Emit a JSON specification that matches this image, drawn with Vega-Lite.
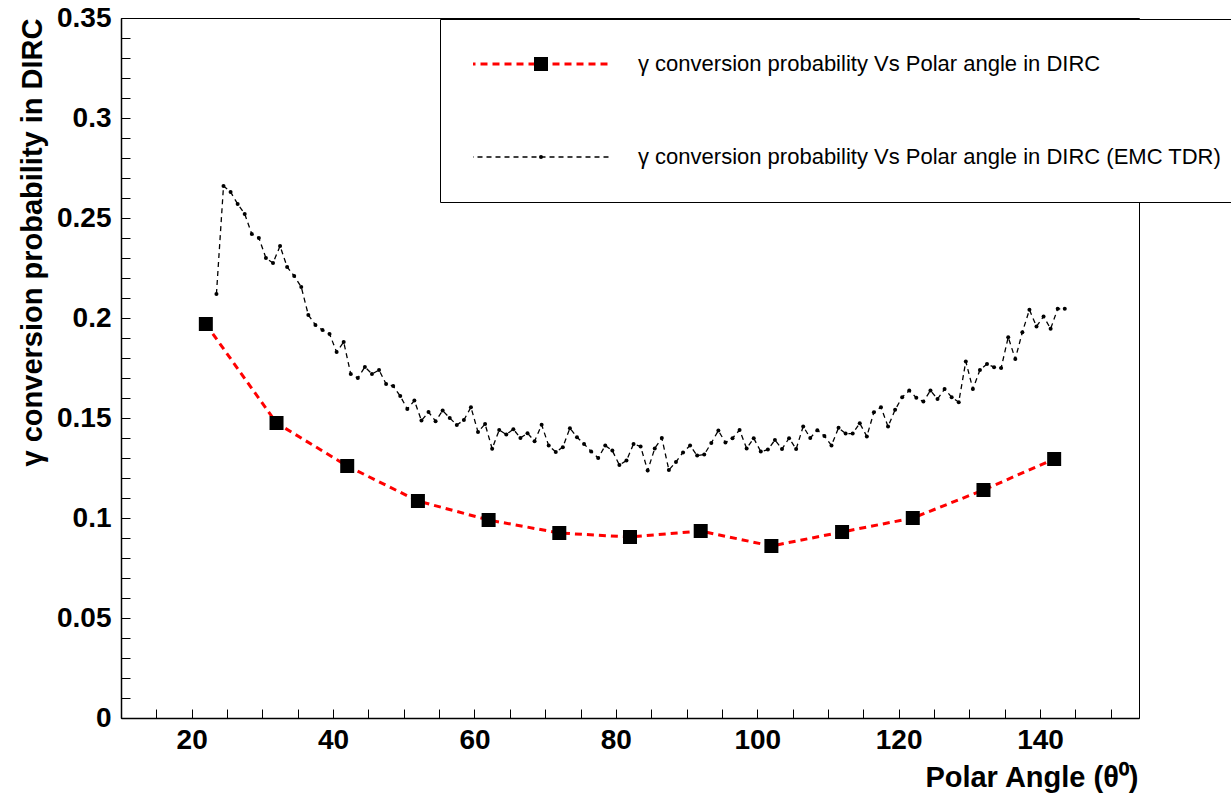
{
  "$schema": "https://vega.github.io/schema/vega-lite/v6.json",
  "width": 1018,
  "height": 700,
  "autosize": {"type": "none"},
  "padding": {"left": 121, "top": 18, "right": 92, "bottom": 78},
  "background": "white",
  "config": {"view": {"stroke": "black", "strokeWidth": 1}, "font": "Liberation Sans"},
  "datasets": {
    "pts": [
      {"series": "γ conversion probability Vs Polar angle in DIRC", "angle": 22, "prob": 0.197},
      {"series": "γ conversion probability Vs Polar angle in DIRC", "angle": 32, "prob": 0.1475},
      {"series": "γ conversion probability Vs Polar angle in DIRC", "angle": 42, "prob": 0.126},
      {"series": "γ conversion probability Vs Polar angle in DIRC", "angle": 52, "prob": 0.1085},
      {"series": "γ conversion probability Vs Polar angle in DIRC", "angle": 62, "prob": 0.099},
      {"series": "γ conversion probability Vs Polar angle in DIRC", "angle": 72, "prob": 0.0925},
      {"series": "γ conversion probability Vs Polar angle in DIRC", "angle": 82, "prob": 0.0905},
      {"series": "γ conversion probability Vs Polar angle in DIRC", "angle": 92, "prob": 0.0935},
      {"series": "γ conversion probability Vs Polar angle in DIRC", "angle": 102, "prob": 0.086},
      {"series": "γ conversion probability Vs Polar angle in DIRC", "angle": 112, "prob": 0.093},
      {"series": "γ conversion probability Vs Polar angle in DIRC", "angle": 122, "prob": 0.1},
      {"series": "γ conversion probability Vs Polar angle in DIRC", "angle": 132, "prob": 0.114},
      {"series": "γ conversion probability Vs Polar angle in DIRC", "angle": 142, "prob": 0.1295},
      {"series": "γ conversion probability Vs Polar angle in DIRC (EMC TDR)", "angle": 23.5, "prob": 0.212},
      {"series": "γ conversion probability Vs Polar angle in DIRC (EMC TDR)", "angle": 24.5, "prob": 0.266},
      {"series": "γ conversion probability Vs Polar angle in DIRC (EMC TDR)", "angle": 25.5, "prob": 0.263},
      {"series": "γ conversion probability Vs Polar angle in DIRC (EMC TDR)", "angle": 26.5, "prob": 0.257},
      {"series": "γ conversion probability Vs Polar angle in DIRC (EMC TDR)", "angle": 27.5, "prob": 0.252},
      {"series": "γ conversion probability Vs Polar angle in DIRC (EMC TDR)", "angle": 28.5, "prob": 0.242},
      {"series": "γ conversion probability Vs Polar angle in DIRC (EMC TDR)", "angle": 29.5, "prob": 0.24},
      {"series": "γ conversion probability Vs Polar angle in DIRC (EMC TDR)", "angle": 30.5, "prob": 0.23},
      {"series": "γ conversion probability Vs Polar angle in DIRC (EMC TDR)", "angle": 31.5, "prob": 0.2275},
      {"series": "γ conversion probability Vs Polar angle in DIRC (EMC TDR)", "angle": 32.5, "prob": 0.236},
      {"series": "γ conversion probability Vs Polar angle in DIRC (EMC TDR)", "angle": 33.5, "prob": 0.2255},
      {"series": "γ conversion probability Vs Polar angle in DIRC (EMC TDR)", "angle": 34.5, "prob": 0.221},
      {"series": "γ conversion probability Vs Polar angle in DIRC (EMC TDR)", "angle": 35.5, "prob": 0.2155},
      {"series": "γ conversion probability Vs Polar angle in DIRC (EMC TDR)", "angle": 36.5, "prob": 0.2015},
      {"series": "γ conversion probability Vs Polar angle in DIRC (EMC TDR)", "angle": 37.5, "prob": 0.1965},
      {"series": "γ conversion probability Vs Polar angle in DIRC (EMC TDR)", "angle": 38.5, "prob": 0.194},
      {"series": "γ conversion probability Vs Polar angle in DIRC (EMC TDR)", "angle": 39.5, "prob": 0.192},
      {"series": "γ conversion probability Vs Polar angle in DIRC (EMC TDR)", "angle": 40.5, "prob": 0.183},
      {"series": "γ conversion probability Vs Polar angle in DIRC (EMC TDR)", "angle": 41.5, "prob": 0.188},
      {"series": "γ conversion probability Vs Polar angle in DIRC (EMC TDR)", "angle": 42.5, "prob": 0.172},
      {"series": "γ conversion probability Vs Polar angle in DIRC (EMC TDR)", "angle": 43.5, "prob": 0.17},
      {"series": "γ conversion probability Vs Polar angle in DIRC (EMC TDR)", "angle": 44.5, "prob": 0.1755},
      {"series": "γ conversion probability Vs Polar angle in DIRC (EMC TDR)", "angle": 45.5, "prob": 0.172},
      {"series": "γ conversion probability Vs Polar angle in DIRC (EMC TDR)", "angle": 46.5, "prob": 0.174},
      {"series": "γ conversion probability Vs Polar angle in DIRC (EMC TDR)", "angle": 47.5, "prob": 0.167},
      {"series": "γ conversion probability Vs Polar angle in DIRC (EMC TDR)", "angle": 48.5, "prob": 0.166},
      {"series": "γ conversion probability Vs Polar angle in DIRC (EMC TDR)", "angle": 49.5, "prob": 0.161},
      {"series": "γ conversion probability Vs Polar angle in DIRC (EMC TDR)", "angle": 50.5, "prob": 0.1545},
      {"series": "γ conversion probability Vs Polar angle in DIRC (EMC TDR)", "angle": 51.5, "prob": 0.1587},
      {"series": "γ conversion probability Vs Polar angle in DIRC (EMC TDR)", "angle": 52.5, "prob": 0.1487},
      {"series": "γ conversion probability Vs Polar angle in DIRC (EMC TDR)", "angle": 53.5, "prob": 0.153},
      {"series": "γ conversion probability Vs Polar angle in DIRC (EMC TDR)", "angle": 54.5, "prob": 0.1484},
      {"series": "γ conversion probability Vs Polar angle in DIRC (EMC TDR)", "angle": 55.5, "prob": 0.1537},
      {"series": "γ conversion probability Vs Polar angle in DIRC (EMC TDR)", "angle": 56.5, "prob": 0.15},
      {"series": "γ conversion probability Vs Polar angle in DIRC (EMC TDR)", "angle": 57.5, "prob": 0.1465},
      {"series": "γ conversion probability Vs Polar angle in DIRC (EMC TDR)", "angle": 58.5, "prob": 0.149},
      {"series": "γ conversion probability Vs Polar angle in DIRC (EMC TDR)", "angle": 59.5, "prob": 0.1554},
      {"series": "γ conversion probability Vs Polar angle in DIRC (EMC TDR)", "angle": 60.5, "prob": 0.143},
      {"series": "γ conversion probability Vs Polar angle in DIRC (EMC TDR)", "angle": 61.5, "prob": 0.147},
      {"series": "γ conversion probability Vs Polar angle in DIRC (EMC TDR)", "angle": 62.5, "prob": 0.1346},
      {"series": "γ conversion probability Vs Polar angle in DIRC (EMC TDR)", "angle": 63.5, "prob": 0.144},
      {"series": "γ conversion probability Vs Polar angle in DIRC (EMC TDR)", "angle": 64.5, "prob": 0.1417},
      {"series": "γ conversion probability Vs Polar angle in DIRC (EMC TDR)", "angle": 65.5, "prob": 0.1444},
      {"series": "γ conversion probability Vs Polar angle in DIRC (EMC TDR)", "angle": 66.5, "prob": 0.14},
      {"series": "γ conversion probability Vs Polar angle in DIRC (EMC TDR)", "angle": 67.5, "prob": 0.1424},
      {"series": "γ conversion probability Vs Polar angle in DIRC (EMC TDR)", "angle": 68.5, "prob": 0.1384},
      {"series": "γ conversion probability Vs Polar angle in DIRC (EMC TDR)", "angle": 69.5, "prob": 0.1466},
      {"series": "γ conversion probability Vs Polar angle in DIRC (EMC TDR)", "angle": 70.5, "prob": 0.1362},
      {"series": "γ conversion probability Vs Polar angle in DIRC (EMC TDR)", "angle": 71.5, "prob": 0.133},
      {"series": "γ conversion probability Vs Polar angle in DIRC (EMC TDR)", "angle": 72.5, "prob": 0.1354},
      {"series": "γ conversion probability Vs Polar angle in DIRC (EMC TDR)", "angle": 73.5, "prob": 0.1449},
      {"series": "γ conversion probability Vs Polar angle in DIRC (EMC TDR)", "angle": 74.5, "prob": 0.1404},
      {"series": "γ conversion probability Vs Polar angle in DIRC (EMC TDR)", "angle": 75.5, "prob": 0.137},
      {"series": "γ conversion probability Vs Polar angle in DIRC (EMC TDR)", "angle": 76.5, "prob": 0.1333},
      {"series": "γ conversion probability Vs Polar angle in DIRC (EMC TDR)", "angle": 77.5, "prob": 0.13},
      {"series": "γ conversion probability Vs Polar angle in DIRC (EMC TDR)", "angle": 78.5, "prob": 0.1362},
      {"series": "γ conversion probability Vs Polar angle in DIRC (EMC TDR)", "angle": 79.5, "prob": 0.1337},
      {"series": "γ conversion probability Vs Polar angle in DIRC (EMC TDR)", "angle": 80.5, "prob": 0.1265},
      {"series": "γ conversion probability Vs Polar angle in DIRC (EMC TDR)", "angle": 81.5, "prob": 0.1287},
      {"series": "γ conversion probability Vs Polar angle in DIRC (EMC TDR)", "angle": 82.5, "prob": 0.137},
      {"series": "γ conversion probability Vs Polar angle in DIRC (EMC TDR)", "angle": 83.5, "prob": 0.1358},
      {"series": "γ conversion probability Vs Polar angle in DIRC (EMC TDR)", "angle": 84.5, "prob": 0.1237},
      {"series": "γ conversion probability Vs Polar angle in DIRC (EMC TDR)", "angle": 85.5, "prob": 0.1348},
      {"series": "γ conversion probability Vs Polar angle in DIRC (EMC TDR)", "angle": 86.5, "prob": 0.14},
      {"series": "γ conversion probability Vs Polar angle in DIRC (EMC TDR)", "angle": 87.5, "prob": 0.124},
      {"series": "γ conversion probability Vs Polar angle in DIRC (EMC TDR)", "angle": 88.5, "prob": 0.128},
      {"series": "γ conversion probability Vs Polar angle in DIRC (EMC TDR)", "angle": 89.5, "prob": 0.1328},
      {"series": "γ conversion probability Vs Polar angle in DIRC (EMC TDR)", "angle": 90.5, "prob": 0.1362},
      {"series": "γ conversion probability Vs Polar angle in DIRC (EMC TDR)", "angle": 91.5, "prob": 0.1312},
      {"series": "γ conversion probability Vs Polar angle in DIRC (EMC TDR)", "angle": 92.5, "prob": 0.1317},
      {"series": "γ conversion probability Vs Polar angle in DIRC (EMC TDR)", "angle": 93.5, "prob": 0.1375},
      {"series": "γ conversion probability Vs Polar angle in DIRC (EMC TDR)", "angle": 94.5, "prob": 0.1437},
      {"series": "γ conversion probability Vs Polar angle in DIRC (EMC TDR)", "angle": 95.5, "prob": 0.1377},
      {"series": "γ conversion probability Vs Polar angle in DIRC (EMC TDR)", "angle": 96.5, "prob": 0.1399},
      {"series": "γ conversion probability Vs Polar angle in DIRC (EMC TDR)", "angle": 97.5, "prob": 0.144},
      {"series": "γ conversion probability Vs Polar angle in DIRC (EMC TDR)", "angle": 98.5, "prob": 0.1348},
      {"series": "γ conversion probability Vs Polar angle in DIRC (EMC TDR)", "angle": 99.5, "prob": 0.1399},
      {"series": "γ conversion probability Vs Polar angle in DIRC (EMC TDR)", "angle": 100.5, "prob": 0.1332},
      {"series": "γ conversion probability Vs Polar angle in DIRC (EMC TDR)", "angle": 101.5, "prob": 0.1342},
      {"series": "γ conversion probability Vs Polar angle in DIRC (EMC TDR)", "angle": 102.5, "prob": 0.139},
      {"series": "γ conversion probability Vs Polar angle in DIRC (EMC TDR)", "angle": 103.5, "prob": 0.1345},
      {"series": "γ conversion probability Vs Polar angle in DIRC (EMC TDR)", "angle": 104.5, "prob": 0.1399},
      {"series": "γ conversion probability Vs Polar angle in DIRC (EMC TDR)", "angle": 105.5, "prob": 0.1345},
      {"series": "γ conversion probability Vs Polar angle in DIRC (EMC TDR)", "angle": 106.5, "prob": 0.1458},
      {"series": "γ conversion probability Vs Polar angle in DIRC (EMC TDR)", "angle": 107.5, "prob": 0.14},
      {"series": "γ conversion probability Vs Polar angle in DIRC (EMC TDR)", "angle": 108.5, "prob": 0.1439},
      {"series": "γ conversion probability Vs Polar angle in DIRC (EMC TDR)", "angle": 109.5, "prob": 0.141},
      {"series": "γ conversion probability Vs Polar angle in DIRC (EMC TDR)", "angle": 110.5, "prob": 0.1363},
      {"series": "γ conversion probability Vs Polar angle in DIRC (EMC TDR)", "angle": 111.5, "prob": 0.1451},
      {"series": "γ conversion probability Vs Polar angle in DIRC (EMC TDR)", "angle": 112.5, "prob": 0.1422},
      {"series": "γ conversion probability Vs Polar angle in DIRC (EMC TDR)", "angle": 113.5, "prob": 0.1422},
      {"series": "γ conversion probability Vs Polar angle in DIRC (EMC TDR)", "angle": 114.5, "prob": 0.1474},
      {"series": "γ conversion probability Vs Polar angle in DIRC (EMC TDR)", "angle": 115.5, "prob": 0.1408},
      {"series": "γ conversion probability Vs Polar angle in DIRC (EMC TDR)", "angle": 116.5, "prob": 0.1529},
      {"series": "γ conversion probability Vs Polar angle in DIRC (EMC TDR)", "angle": 117.5, "prob": 0.1554},
      {"series": "γ conversion probability Vs Polar angle in DIRC (EMC TDR)", "angle": 118.5, "prob": 0.1457},
      {"series": "γ conversion probability Vs Polar angle in DIRC (EMC TDR)", "angle": 119.5, "prob": 0.1541},
      {"series": "γ conversion probability Vs Polar angle in DIRC (EMC TDR)", "angle": 120.5, "prob": 0.1604},
      {"series": "γ conversion probability Vs Polar angle in DIRC (EMC TDR)", "angle": 121.5, "prob": 0.1637},
      {"series": "γ conversion probability Vs Polar angle in DIRC (EMC TDR)", "angle": 122.5, "prob": 0.1601},
      {"series": "γ conversion probability Vs Polar angle in DIRC (EMC TDR)", "angle": 123.5, "prob": 0.1582},
      {"series": "γ conversion probability Vs Polar angle in DIRC (EMC TDR)", "angle": 124.5, "prob": 0.1637},
      {"series": "γ conversion probability Vs Polar angle in DIRC (EMC TDR)", "angle": 125.5, "prob": 0.1595},
      {"series": "γ conversion probability Vs Polar angle in DIRC (EMC TDR)", "angle": 126.5, "prob": 0.1645},
      {"series": "γ conversion probability Vs Polar angle in DIRC (EMC TDR)", "angle": 127.5, "prob": 0.1604},
      {"series": "γ conversion probability Vs Polar angle in DIRC (EMC TDR)", "angle": 128.5, "prob": 0.1579},
      {"series": "γ conversion probability Vs Polar angle in DIRC (EMC TDR)", "angle": 129.5, "prob": 0.1783},
      {"series": "γ conversion probability Vs Polar angle in DIRC (EMC TDR)", "angle": 130.5, "prob": 0.1645},
      {"series": "γ conversion probability Vs Polar angle in DIRC (EMC TDR)", "angle": 131.5, "prob": 0.174},
      {"series": "γ conversion probability Vs Polar angle in DIRC (EMC TDR)", "angle": 132.5, "prob": 0.177},
      {"series": "γ conversion probability Vs Polar angle in DIRC (EMC TDR)", "angle": 133.5, "prob": 0.1754},
      {"series": "γ conversion probability Vs Polar angle in DIRC (EMC TDR)", "angle": 134.5, "prob": 0.175},
      {"series": "γ conversion probability Vs Polar angle in DIRC (EMC TDR)", "angle": 135.5, "prob": 0.1904},
      {"series": "γ conversion probability Vs Polar angle in DIRC (EMC TDR)", "angle": 136.5, "prob": 0.1795},
      {"series": "γ conversion probability Vs Polar angle in DIRC (EMC TDR)", "angle": 137.5, "prob": 0.1929},
      {"series": "γ conversion probability Vs Polar angle in DIRC (EMC TDR)", "angle": 138.5, "prob": 0.2041},
      {"series": "γ conversion probability Vs Polar angle in DIRC (EMC TDR)", "angle": 139.5, "prob": 0.1958},
      {"series": "γ conversion probability Vs Polar angle in DIRC (EMC TDR)", "angle": 140.5, "prob": 0.2008},
      {"series": "γ conversion probability Vs Polar angle in DIRC (EMC TDR)", "angle": 141.5, "prob": 0.1946},
      {"series": "γ conversion probability Vs Polar angle in DIRC (EMC TDR)", "angle": 142.5, "prob": 0.2046},
      {"series": "γ conversion probability Vs Polar angle in DIRC (EMC TDR)", "angle": 143.5, "prob": 0.2046}
    ]
  },
  "data": {"name": "pts"},
  "encoding": {
    "x": {
      "field": "angle", "type": "quantitative",
      "scale": {"domain": [10, 154], "nice": false, "zero": false},
      "axis": {
        "title": "Polar Angle (θ⁰)",
        "values": [15, 20, 25, 30, 35, 40, 45, 50, 55, 60, 65, 70, 75, 80, 85, 90, 95, 100, 105, 110, 115, 120, 125, 130, 135, 140, 145, 150],
        "grid": false,
        "tickSize": -9, "tickColor": "black", "tickWidth": 1,
        "domainColor": "black", "domainWidth": 1.5,
        "labelExpr": "datum.value % 20 === 0 ? datum.label : ''",
        "labelFont": "Liberation Sans", "labelFontSize": 28, "labelFontWeight": "bold", "labelColor": "black",
        "labelPadding": 17, "labelOverlap": false, "labelFlush": false,
        "titleFont": "Liberation Sans", "titleFontSize": 29, "titleFontWeight": "bold", "titleColor": "black",
        "titleX": 1017, "titleY": 68, "titleAlign": "right", "titleBaseline": "alphabetic",
        "encode": {"ticks": {"update": {"y2": {"signal": "datum.value % 20 === 0 ? -20 : -9"}}}}
      }
    },
    "y": {
      "field": "prob", "type": "quantitative",
      "scale": {"domain": [0, 0.35], "nice": false},
      "axis": {
        "title": "γ conversion probability in DIRC",
        "values": [0, 0.01, 0.02, 0.03, 0.04, 0.05, 0.06, 0.07, 0.08, 0.09, 0.1, 0.11, 0.12, 0.13, 0.14, 0.15, 0.16, 0.17, 0.18, 0.19, 0.2, 0.21, 0.22, 0.23, 0.24, 0.25, 0.26, 0.27, 0.28, 0.29, 0.3, 0.31, 0.32, 0.33, 0.34, 0.35],
        "format": "~g",
        "grid": false,
        "tickSize": -9, "tickColor": "black", "tickWidth": 1,
        "domainColor": "black", "domainWidth": 1.5,
        "labelExpr": "round(datum.value * 100) % 5 === 0 ? datum.label : ''",
        "labelFont": "Liberation Sans", "labelFontSize": 28, "labelFontWeight": "bold", "labelColor": "black",
        "labelPadding": 19, "labelOverlap": false, "labelFlush": false,
        "titleFont": "Liberation Sans", "titleFontSize": 29, "titleFontWeight": "bold", "titleColor": "black",
        "titleX": -89, "titleY": 0, "titleAngle": -90, "titleAlign": "right", "titleBaseline": "middle",
        "encode": {"ticks": {"update": {"x2": {"signal": "round(datum.value * 100) % 5 === 0 ? 19 : 9"}}}}
      }
    }
  },
  "layer": [
    {
      "mark": {"type": "line", "strokeCap": "butt"},
      "encoding": {
        "color": {
          "field": "series", "type": "nominal",
          "scale": {"domain": ["γ conversion probability Vs Polar angle in DIRC", "γ conversion probability Vs Polar angle in DIRC (EMC TDR)"], "range": ["#ff0000", "#000000"]},
          "legend": {
            "orient": "none", "legendX": 319, "legendY": 1, "title": null, "direction": "vertical",
            "symbolType": "stroke", "symbolSize": 19600, "symbolOffset": -6,
            "labelOffset": 28, "clipHeight": 24, "rowPadding": 69, "padding": 33,
            "fillColor": "white", "strokeColor": "black",
            "labelFont": "Liberation Sans", "labelFontSize": 22, "labelColor": "black", "labelLimit": 1000,
            "zindex": 1
          }
        },
        "strokeDash": {
          "field": "series", "type": "nominal",
          "scale": {"domain": ["γ conversion probability Vs Polar angle in DIRC", "γ conversion probability Vs Polar angle in DIRC (EMC TDR)"], "range": [[7, 5], [5, 4]]}
        },
        "strokeWidth": {
          "field": "series", "type": "nominal",
          "scale": {"type": "point", "domain": ["γ conversion probability Vs Polar angle in DIRC", "γ conversion probability Vs Polar angle in DIRC (EMC TDR)"], "range": [3, 1.3]}
        }
      }
    },
    {
      "mark": {"type": "point", "filled": true, "color": "black", "opacity": 1, "strokeWidth": 0},
      "encoding": {
        "shape": {
          "field": "series", "type": "nominal",
          "scale": {"range": ["square", "circle"]},
          "legend": {
            "orient": "none", "legendX": 376, "legendY": 1, "title": null, "direction": "vertical",
            "clipHeight": 24, "rowPadding": 69, "padding": 33,
            "labelExpr": "''", "labelOpacity": 0, "labelFont": "Liberation Sans", "labelFontSize": 22,
            "symbolFillColor": "black", "symbolStrokeColor": "black", "symbolStrokeWidth": 0,
            "zindex": 2
          }
        },
        "size": {
          "field": "series", "type": "nominal",
          "scale": {"type": "point", "range": [196, 16]}
        }
      }
    }
  ]
}
